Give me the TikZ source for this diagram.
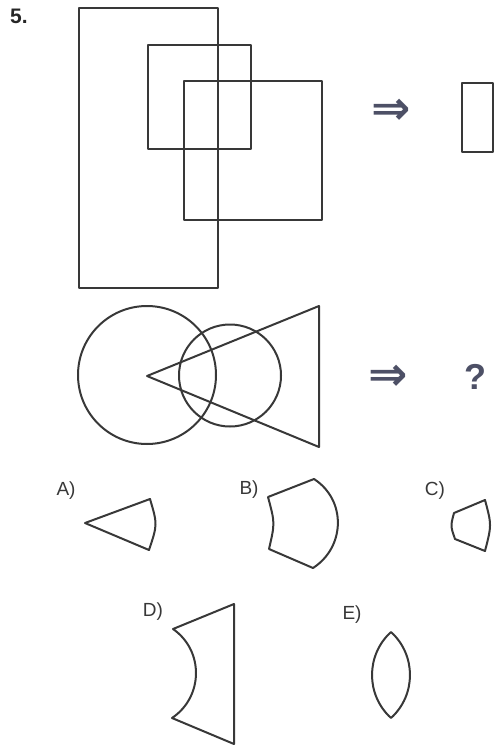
\documentclass[tikz,border=0pt]{standalone}
\usepackage{fontspec}
\setmainfont{Liberation Sans}
\newfontfamily\arrowfont{DejaVu Sans}
\usepackage{xcolor}
\usetikzlibrary{positioning}
\definecolor{inkgray}{HTML}{383838}
\definecolor{signgray}{HTML}{4D5066}
\tikzset{
  figline/.style={
    draw=inkgray,
    line width=2pt,
    line join=round
  },
  optlabel/.style={
    font=\fontsize{19}{19}\selectfont,
    text=inkgray,
    inner sep=0pt
  },
  sign/.style={
    text=signgray,
    inner sep=0pt
  }
}

\begin{document}
\begin{tikzpicture}[x=1pt, y=-1pt]
  \useasboundingbox (0,0) rectangle (496,749);
  \node[font=\bfseries\fontsize{21}{21}\selectfont, text=black!85, inner sep=0pt] (num) at (19,16) {5.};

  % first row: three rectangles
  \draw[figline] (79,8) rectangle (218,288);
  \draw[figline] (148,45) rectangle (251,149);
  \draw[figline] (184,81) rectangle (322,220);
  \node[sign, font=\arrowfont\bfseries\fontsize{47}{47}\selectfont] (arrowA) at (391,112) {⇒};
  \draw[figline] (462,83) rectangle (493,152);

  % second row: circles and triangle
  \draw[figline] (147,375) circle[radius=69];
  \draw[figline] (230,375.5) circle[radius=51];
  \draw[figline] (147,376) -- (319,306) -- (319,447) -- cycle;
  \node[sign, font=\arrowfont\bfseries\fontsize{47}{47}\selectfont] (arrowB) at (388,378) {⇒};
  \node[sign, font=\bfseries\fontsize{36}{36}\selectfont] (quest) at (475,377) {?};

  % answers
  \node[optlabel] (labA) at (66,491) {A)};
  \node[optlabel] (labB) at (249,490) {B)};
  \node[optlabel] (labC) at (435,491) {C)};
  \node[optlabel] (labD) at (153,612) {D)};
  \node[optlabel] (labE) at (352,615) {E)};

  \draw[figline] (85,523) -- (150,499) .. controls (157.5,524.5) .. (149,550) -- cycle;
  \draw[figline] (268,497) -- (314,479)
    .. controls (346.5,500) and (345.5,547) .. (313,568)
    -- (269,549) .. controls (275,523) .. cycle;
  \draw[figline] (454,513) -- (485,500) .. controls (491.7,525) .. (485,551)
    -- (455,539) .. controls (450.5,526) .. cycle;
  \draw[figline] (234,604) -- (234,744) -- (172,718)
    .. controls (203.5,696.9) and (204.1,650.6) .. (173,629) -- cycle;
  \draw[figline] (391,632) .. controls (416.3,655) and (416.3,695) .. (391,718)
    .. controls (365.7,695) and (365.7,655) .. cycle;
\end{tikzpicture}
\end{document}
